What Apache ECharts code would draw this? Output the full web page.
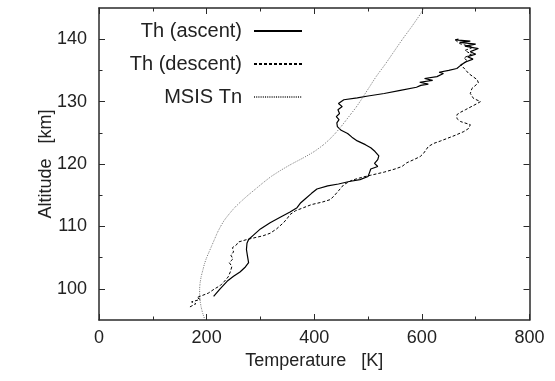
<!DOCTYPE html>
<html>
<head>
<meta charset="utf-8">
<script src="https://cdn.jsdelivr.net/npm/echarts@6/dist/echarts.min.js"></script>
<style>html,body{margin:0;padding:0;background:#fff}#c{width:555px;height:381px}</style>
</head>
<body>
<div id="c"></div>
<script>
// Temperature [K] and altitude [km]
const ascentT   = [213,225,238,250,262,272,278,276,274,275,278,287,300,318,335,355,368,375,383,395,405,425,445,465,485,500,503,505,518,512,518,520,513,505,495,480,470,462,450,443,442,446,441,447,444,452,445,455,480,500,530,560,590,598,612,596,620,605,628,640,632,650,665,672,680,695,685,700,690,705,680,700,670,690,662,668];
const ascentAlt = [98.8,100.0,101.2,102.0,102.7,103.5,104.2,105.2,106.3,107.3,107.9,108.6,109.6,110.6,111.4,112.3,113.0,113.8,114.4,115.3,116.0,116.5,116.8,117.2,117.5,118.0,118.7,119.2,119.6,120.1,120.7,121.3,122.0,122.6,123.1,123.7,124.3,124.9,125.4,126.0,126.6,127.1,127.6,128.1,128.7,129.2,129.7,130.3,130.6,130.9,131.3,131.8,132.3,132.6,132.8,133.1,133.4,133.7,134.0,134.5,134.7,135.0,135.3,135.8,136.3,136.8,137.2,137.6,138.0,138.5,138.9,139.2,139.5,139.7,139.9,140.0];
const descentT   = [169,180,172,188,182,203,215,225,232,240,244,247,242,249,245,250,248,255,259,275,290,305,318,330,343,350,355,365,380,395,415,430,438,445,455,470,490,505,530,550,563,572,585,597,603,608,612,622,635,647,662,678,687,690,672,665,665,672,681,703,709,696,690,693,705,703,687,680,672,685,678,692,680,695,670,662];
const descentAlt = [97.1,97.6,97.9,98.3,98.6,99.3,100.0,100.5,101.1,101.9,102.7,103.6,104.2,104.8,105.4,105.9,106.6,107.0,107.5,107.9,108.2,108.5,108.9,109.6,110.6,111.3,111.9,112.5,113.0,113.5,113.9,114.3,115.0,115.7,116.7,117.4,117.9,118.2,118.7,119.2,119.6,120.2,120.7,121.2,121.7,122.3,122.8,123.3,123.7,124.1,124.6,125.2,125.7,126.3,126.8,127.3,127.9,128.3,128.7,129.7,130.0,130.5,131.3,132.1,133.0,133.5,134.5,135.2,135.9,136.5,137.0,137.6,138.2,138.7,139.3,139.9];
const msisT   = [197,193,190,188,187,187,188,190,193,196,200,205,210,215,220,226,233,242,252,264,277,291,305,320,338,358,380,400,416,429,440,450,459,468,477,485,500,515,532,548,564,581,597,604];
const msisAlt = [95,96,97,98,99,100,101,102,103,104,105,106,107,108,109,110,111,112,113,114,115,116,117,118,119,120,121,122,123,124,125,126,127,128,129,130,132,134,136,138,140,142,144,145];
const yLabels = [100,110,120,130,140];
const yMinor = [105,115,125,135];
const names = ['Th (ascent)','Th (descent)','MSIS Tn'];

const zip = (a,b) => a.map((v,i) => [v,b[i]]);
const axisColor = '#222';
const lineColor = '#2a2a2a';
const font = 'Liberation Sans, Arial, Helvetica, sans-serif';
const FS = 18;

const xBase = (pos, showLabel) => ({
  type:'value', position:pos, min:0, max:800, interval:200,
  axisLine:{show:true,lineStyle:{color:lineColor,width:1.5}},
  axisTick:{show:true,inside:true,length:6,lineStyle:{color:lineColor}},
  minorTick:{show:true,splitNumber:2,length:3.5,lineStyle:{color:lineColor}},
  axisLabel:{show:showLabel,fontSize:FS,color:axisColor,fontFamily:font,margin:9},
  splitLine:{show:false}, minorSplitLine:{show:false},
  name: showLabel ? 'Temperature   [K]' : '', nameLocation:'middle', nameGap:32, nameMoveOverlap:false,
  nameTextStyle:{fontSize:FS,color:axisColor,fontFamily:font}
});
const yBase = (pos, major, showLabel, showLine, name) => ({
  type:'value', position:pos, min:95, max:145,
  axisLine:{show:showLine,lineStyle:{color:lineColor,width:1.5}},
  axisTick:{show:true,inside:true,length:major?6:3.5,customValues: major?yLabels:yMinor,lineStyle:{color:lineColor}},
  axisLabel:{show:showLabel,customValues:yLabels,fontSize:FS,color:axisColor,fontFamily:font,margin:12},
  splitLine:{show:false},
  name: name||'', nameLocation:'middle', nameGap:44, nameMoveOverlap:false,
  nameTextStyle:{fontSize:FS,color:axisColor,fontFamily:font}
});

const chart = echarts.init(document.getElementById('c'), null, {renderer:'canvas'});
chart.setOption({
  backgroundColor:'#fff',
  animation:false,
  grid:{left:99,right:25.5,top:8,bottom:61,show:false},
  xAxis:[xBase('bottom',true), xBase('top',false)],
  yAxis:[yBase('left',true,true,true,'Altitude   [km]'), yBase('left',false,false,false),
         yBase('right',true,false,true), yBase('right',false,false,false)],
  legend:{
    data:names, orient:'vertical', align:'right', right:252, top:21, padding:0,
    itemWidth:48, itemHeight:14, itemGap:13,
    itemStyle:{opacity:0},
    textStyle:{fontSize:20,color:axisColor,fontFamily:font,padding:[0,7,0,0]},
    selectedMode:false
  },
  series:[
    {name:names[0],type:'line',data:zip(ascentT,ascentAlt),symbol:'none',
     lineStyle:{color:'#000',width:1.2},itemStyle:{color:'#000'}},
    {name:names[1],type:'line',data:zip(descentT,descentAlt),symbol:'none',
     lineStyle:{color:'#000',width:1,type:[3,2]},itemStyle:{color:'#000'}},
    {name:names[2],type:'line',data:zip(msisT,msisAlt),symbol:'none',smooth:0.2,
     lineStyle:{color:'#555',width:0.8,type:[1,1.2]},itemStyle:{color:'#555'}}
  ]
});
</script>
</body>
</html>
